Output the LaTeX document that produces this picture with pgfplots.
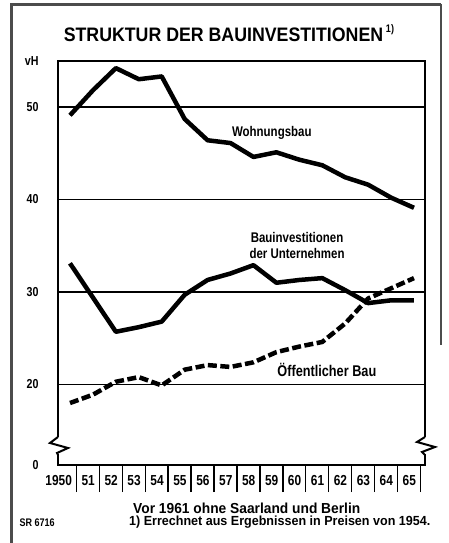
\documentclass[border=0pt]{standalone}
\usepackage{pgfplots}
\pgfplotsset{compat=1.18}
\usepackage{fontspec}
\setmainfont{Liberation Sans}[FakeStretch=0.82, UprightFont={* Bold}, BoldFont={* Bold}]
\newfontfamily\titlefont{Liberation Sans}[FakeStretch=0.91, UprightFont={* Bold}, BoldFont={* Bold}]
\newfontfamily\notefont{Liberation Sans}[FakeStretch=0.95, UprightFont={* Bold}, BoldFont={* Bold}]
\begin{document}
\begin{tikzpicture}[x=1pt,y=1pt]
\useasboundingbox (-58,-78) rectangle (390,465);
\begin{axis}[
  at={(0,0)}, anchor=south west, scale only axis,
  width=367pt, height=404pt,
  xmin=-0.523, xmax=15.48, ymin=11.3, ymax=54.97,
  axis line style={line width=2.2pt},
  ytick={11.3,20,30,40,50,54.97}, yticklabels={0,20,30,40,50,vH},
  ymajorgrids, grid style={line width=1.4pt, black},
  ytick style={draw=none},
  yticklabel style={font=\fontsize{13}{13}\selectfont, anchor=east, xshift=11pt},
  xtick={0.28,1.28,2.28,3.28,4.28,5.28,6.28,7.28,8.28,9.28,10.28,11.28,12.28,13.28,14.28,15.28},
  xticklabels={1950,51,52,53,54,55,56,57,58,59,60,61,62,63,64,65},
  xtick pos=bottom,
  tick align=outside, major tick length=27pt,
  xtick style={line width=1.4pt, black},
  xticklabel style={font=\fontsize{14.5}{14.5}\selectfont, anchor=north east, xshift=-1pt, yshift=20pt},
  clip=false,
]
\addplot[line width=4.5pt, line join=round] coordinates {
(0,49.1)(1,51.8)(2,54.2)(3,53.0)(4,53.3)(5,48.7)(6,46.4)(7,46.1)(8,44.6)(9,45.1)(10,44.3)(11,43.7)(12,42.4)(13,41.6)(14,40.2)(15,39.1)};
\addplot[line width=4.5pt, line join=round] coordinates {
(0,33.1)(1,29.4)(2,25.7)(3,26.2)(4,26.8)(5,29.7)(6,31.3)(7,32.0)(8,32.9)(9,31.0)(10,31.3)(11,31.5)(12,30.2)(13,28.8)(14,29.1)(15,29.1)};
\addplot[line width=4.5pt, line join=round, dash pattern=on 9pt off 3.5pt] coordinates {
(0,18.0)(1,18.9)(2,20.3)(3,20.8)(4,19.9)(5,21.6)(6,22.1)(7,21.9)(8,22.4)(9,23.5)(10,24.1)(11,24.6)(12,26.6)(13,29.3)(14,30.4)(15,31.5)};
\node[font=\fontsize{14}{14}\selectfont] at (axis cs:8.8,47.2) {Wohnungsbau};
\node[font=\fontsize{14}{16}\selectfont, align=center] at (axis cs:9.9,35.05) {Bauinvestitionen\\der Unternehmen};
\node[font=\fontsize{15.5}{15.5}\selectfont] at (axis cs:11.2,21.6) {Öffentlicher Bau};
\end{axis}
% axis breaks
\fill[white] (-3,11) rectangle (3,28);
\draw[line width=2pt, line join=miter] (0,28) -- (-8,22) -- (10,17) -- (-1,12) -- (0,10);
\fill[white] (364,11) rectangle (370,28);
\draw[line width=2pt, line join=miter] (367,28) -- (359,23) -- (377,18) -- (364,13) -- (367,10);
% frame
\draw[line width=3pt, black!70] (-46,-78) -- (-46,461.5);
\draw[line width=3pt, black!70] (-47.5,460) -- (383,460);
\draw[line width=1.2pt, black!70] (383,461) -- (383,120);
% title
\node[font=\titlefont\fontsize{19.5}{19.5}\selectfont] at (165.5,430) {STRUKTUR DER BAUINVESTITIONEN};
\node[font=\fontsize{11}{11}\selectfont] at (332,435) {1)};
% footnotes
\node[font=\notefont\fontsize{14.5}{14.5}\selectfont, anchor=west, inner sep=0pt] at (75,-43) {Vor 1961 ohne Saarland und Berlin};
\node[font=\notefont\fontsize{13.2}{13.2}\selectfont, anchor=west, inner sep=0pt] at (71,-57) {1) Errechnet aus Ergebnissen in Preisen von 1954.};
\node[font=\fontsize{11}{11}\selectfont, anchor=west] at (-42,-58) {SR 6716};
\end{tikzpicture}
\end{document}
